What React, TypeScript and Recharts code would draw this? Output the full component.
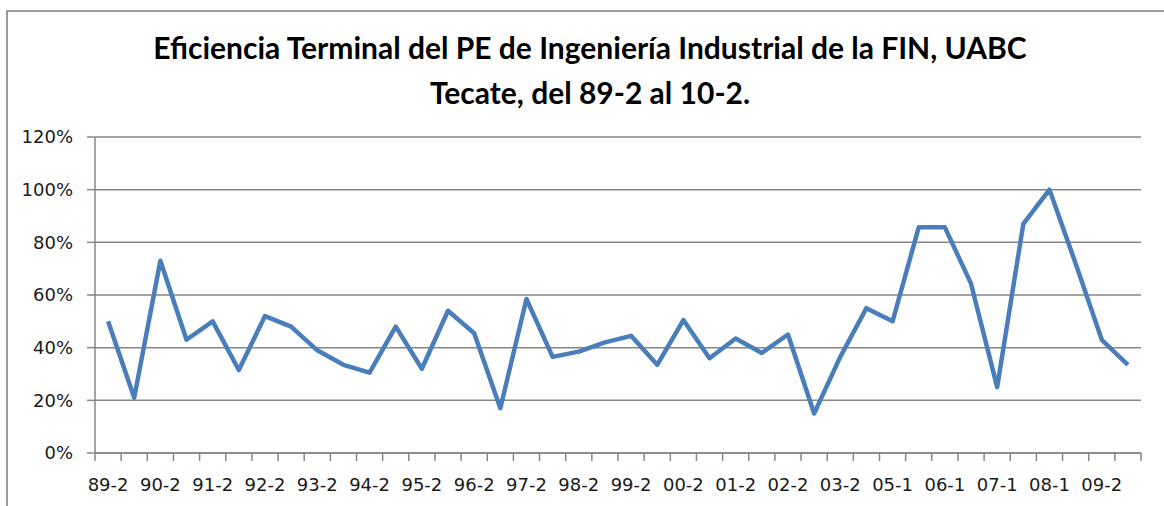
import { LineChart, Line, XAxis, YAxis, CartesianGrid } from 'recharts';

// semester labels (only every other one is printed on the axis)
const periods = [
  '89-2', '90-1', '90-2', '91-1', '91-2', '92-1', '92-2', '93-1', '93-2', '94-1',
  '94-2', '95-1', '95-2', '96-1', '96-2', '97-1', '97-2', '98-1', '98-2', '99-1',
  '99-2', '00-1', '00-2', '01-1', '01-2', '02-1', '02-2', '03-1', '03-2', '04-2',
  '05-1', '05-2', '06-1', '06-2', '07-1', '07-2', '08-1', '08-2', '09-2', '10-2',
];

// eficiencia terminal, %
const efficiency = [
  50, 21, 73, 43, 50, 31.5, 52, 48, 39, 33.5,
  30.5, 48, 32, 54, 45.5, 17, 58.5, 36.5, 38.5, 42,
  44.5, 33.5, 50.5, 36, 43.5, 38, 45, 15, 36.5, 55,
  50, 85.7, 85.7, 64.3, 25, 87, 100, 72, 43, 33.5,
];

const yTicks = [0, 20, 40, 60, 80, 100, 120];

const titleLines = [
  'Eficiencia Terminal del PE de Ingeniería Industrial de la FIN, UABC',
  'Tecate, del 89-2 al 10-2.',
];

const W = 1164;
const H = 506;
const MARGIN = { top: 137, right: 23, bottom: 0, left: 0 };
const Y_AXIS_W = 95;
const X_AXIS_H = 53;
const PLOT_W = W - MARGIN.left - MARGIN.right - Y_AXIS_W;
const STEP = PLOT_W / periods.length;
const AXIS_GRAY = '#868686';
const TICK_FONT = { fontFamily: 'DejaVu Sans', fontSize: 18, fill: '#1a1a1a' };

const data = periods.map((p, i) => ({ period: p, value: efficiency[i] }));

// excel style: tick marks between categories, label on every second one
function PeriodTick(props: any) {
  const { x, y, payload, index } = props;
  return (
    <g>
      <line x1={x - STEP / 2} x2={x - STEP / 2} y1={y} y2={y + 8} stroke={AXIS_GRAY} strokeWidth={1.5} />
      {index === periods.length - 1 && (
        <line x1={x + STEP / 2} x2={x + STEP / 2} y1={y} y2={y + 8} stroke={AXIS_GRAY} strokeWidth={1.5} />
      )}
      {index % 2 === 0 && (
        <text x={x} y={y + 25} dy="0.71em" textAnchor="middle" {...TICK_FONT}>
          {payload.value}
        </text>
      )}
    </g>
  );
}

export default function App() {
  return (
    <div style={{ position: 'absolute', left: 0, top: 0, width: W, height: H, overflow: 'hidden', background: '#fff' }}>
      {/* chart frame, cut off by the page on the right and bottom */}
      <div
        style={{
          position: 'absolute',
          left: 6,
          top: 10,
          width: 1300,
          height: 700,
          border: '2px solid #9a9a9a',
          boxSizing: 'border-box',
        }}
      />
      <svg width={W} height={130} style={{ position: 'absolute', left: 0, top: 0 }}>
        {titleLines.map((t, i) => (
          <text
            key={t}
            x={590}
            y={59 + i * 45}
            textAnchor="middle"
            fontFamily="Lato"
            fontWeight="bold"
            fontSize={30}
            fill="#000"
          >
            {t}
          </text>
        ))}
      </svg>
      <div style={{ position: 'absolute', left: 0, top: 0 }}>
        <LineChart width={W} height={H} data={data} margin={MARGIN}>
          <CartesianGrid vertical={false} stroke={AXIS_GRAY} strokeWidth={1.5} />
          <XAxis
            dataKey="period"
            interval={0}
            height={X_AXIS_H}
            padding={{ left: STEP / 2, right: STEP / 2 }}
            tickLine={false}
            tickSize={0}
            tickMargin={0}
            axisLine={{ stroke: AXIS_GRAY, strokeWidth: 1.5 }}
            tick={<PeriodTick />}
          />
          <YAxis
            width={Y_AXIS_W}
            domain={[0, 120]}
            ticks={yTicks}
            interval={0}
            tickFormatter={(v) => `${v}%`}
            tickSize={8}
            tickMargin={14}
            tick={TICK_FONT}
            tickLine={{ stroke: AXIS_GRAY, strokeWidth: 1.5 }}
            axisLine={{ stroke: AXIS_GRAY, strokeWidth: 1.5 }}
          />
          <Line
            type="linear"
            dataKey="value"
            stroke="#4A7EBB"
            strokeWidth={4.5}
            strokeLinejoin="round"
            dot={false}
            activeDot={false}
            isAnimationActive={false}
          />
        </LineChart>
      </div>
    </div>
  );
}
